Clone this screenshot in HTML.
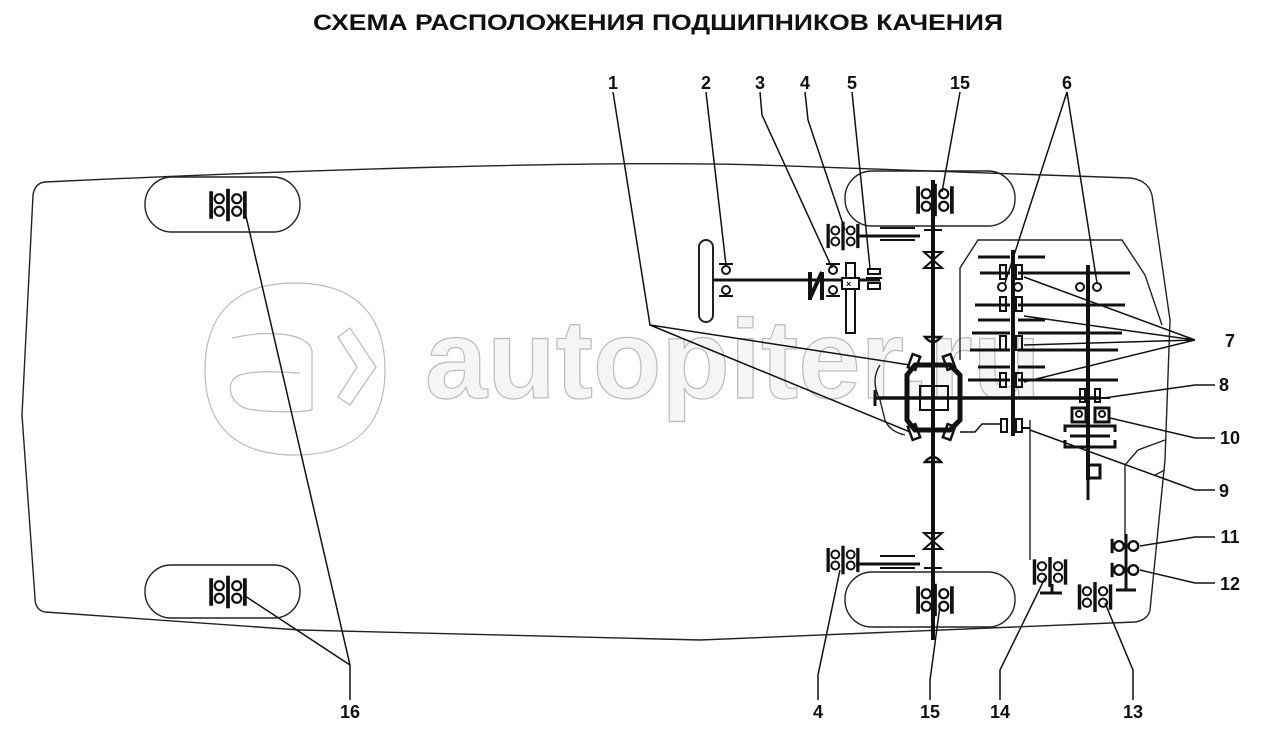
<!DOCTYPE html>
<html><head><meta charset="utf-8"><style>
html,body{margin:0;padding:0;background:#fff;}
svg{display:block;}
.lb{font-family:"Liberation Sans",sans-serif;font-weight:bold;fill:#111;}
</style></head><body>
<svg width="1285" height="745" viewBox="0 0 1285 745" xmlns="http://www.w3.org/2000/svg">
<defs>
<g id="b2" stroke="#111" fill="none">
<rect x="-15" y="-11" width="3" height="22" fill="#111" stroke="none"/>
<circle cx="-7" cy="-5" r="3.6" stroke-width="1.8"/><circle cx="-7" cy="5" r="3.6" stroke-width="1.8"/>
<rect x="-1.5" y="-13" width="3" height="26" fill="#111" stroke="none"/>
<circle cx="7" cy="-5" r="3.6" stroke-width="1.8"/><circle cx="7" cy="5" r="3.6" stroke-width="1.8"/>
<rect x="12" y="-11" width="3" height="22" fill="#111" stroke="none"/>
</g>
<g id="b1" stroke="#111" fill="none">
<rect x="-12" y="-6" width="2.5" height="12" fill="#111" stroke="none"/>
<circle cx="-5" cy="0" r="4" stroke-width="2"/>
<circle cx="7" cy="0" r="4" stroke-width="2"/>
</g>
</defs>

<text class="lb" x="658" y="30" font-size="22" text-anchor="middle" textLength="690" lengthAdjust="spacingAndGlyphs">СХЕМА РАСПОЛОЖЕНИЯ ПОДШИПНИКОВ КАЧЕНИЯ</text>

<g fill="none" stroke="#bbb" stroke-width="1.2">
<path d="M295,283 C360,283 385,320 385,370 C385,425 355,455 295,455 C235,455 205,425 205,370 C205,320 230,283 295,283 Z"/>
<path d="M232,338 C275,328 315,335 312,355 L312,410 C300,413 255,412 245,408 C228,402 225,380 240,375 C255,370 285,372 300,373"/>
<path d="M338,337 L350,328 L376,367 L350,405 L338,397 L357,367 Z"/>
</g>
<text x="425" y="398" font-size="112" style="font-family:'Liberation Sans',sans-serif;font-weight:bold;fill:#f5f5f5;stroke:#bbb;stroke-width:1.2">autopiter.ru</text>

<g fill="none" stroke="#222" stroke-width="1.4">
<path d="M45,182 C300,170 600,160 760,165 L1130,178 Q1148,180 1152,195 L1170,320 L1165,460 L1150,610 Q1148,620 1135,622 L700,640 L300,630 L45,612 Q35,610 35,598 L22,415 L33,195 Q35,183 45,182 Z"/>
<rect x="145" y="177" width="155" height="55" rx="27"/>
<rect x="145" y="565" width="155" height="53" rx="26"/>
<rect x="845" y="171" width="170" height="55" rx="27"/>
<rect x="845" y="572" width="170" height="55" rx="27"/>
<path d="M960,360 L960,268 L978,240 L1122,240 L1145,275 L1162,325"/>
<path d="M880,365 Q870,380 880,400 L885,420 Q890,432 905,435"/>
<path d="M1125,465 L1138,450 L1165,440"/>
<path d="M1125,465 L1125,540"/>
<path d="M1030,420 L1030,560"/>
<path d="M1155,475 L1165,470"/>
<rect x="699" y="240" width="14" height="82" rx="7" stroke-width="2"/>
</g>

<use href="#b2" transform="translate(228,205) scale(1.25)"/>
<use href="#b2" transform="translate(228,592) scale(1.25)"/>
<use href="#b2" transform="translate(935,200) scale(1.25)"/>
<use href="#b2" transform="translate(935,600) scale(1.25)"/>
<use href="#b2" transform="translate(843,236) scale(1.1)"/>
<use href="#b2" transform="translate(843,560) scale(1.1)"/>
<use href="#b2" transform="translate(1050,572) scale(1.15)"/>
<use href="#b2" transform="translate(1095,597) scale(1.15)"/>
<use href="#b1" transform="translate(1125,546) scale(1.2)"/>
<use href="#b1" transform="translate(1125,570) scale(1.2)"/>

<g stroke="#111" fill="none">
<line x1="713" y1="280" x2="880" y2="280" stroke-width="3"/>
<circle cx="726" cy="270" r="4" stroke-width="2"/><circle cx="726" cy="290" r="4" stroke-width="2"/>
<line x1="719" y1="264" x2="733" y2="264" stroke-width="2"/><line x1="719" y1="296" x2="733" y2="296" stroke-width="2"/>
<path d="M810,300 L810,272 M810,298 L822,272 M822,272 L822,300" stroke-width="4"/>
<circle cx="833" cy="270" r="4" stroke-width="2"/><circle cx="833" cy="290" r="4" stroke-width="2"/>
<line x1="826" y1="264" x2="840" y2="264" stroke-width="2"/><line x1="826" y1="296" x2="840" y2="296" stroke-width="2"/>
<rect x="846" y="263" width="9" height="70" stroke-width="2" fill="#fff"/>
<rect x="842" y="278" width="17" height="11" stroke-width="2" fill="#fff"/>
<text class="lb" x="846" y="287" font-size="9" stroke="none">×</text>
<rect x="868" y="269" width="12" height="5" stroke-width="2"/><rect x="868" y="283" width="12" height="6" stroke-width="2"/>
<line x1="866" y1="278" x2="882" y2="278" stroke-width="2"/>
<line x1="856" y1="236" x2="920" y2="236" stroke-width="3"/>
<line x1="880" y1="228" x2="915" y2="228" stroke-width="2"/><line x1="880" y1="240" x2="915" y2="240" stroke-width="2"/>
<line x1="856" y1="564" x2="920" y2="564" stroke-width="3"/>
<line x1="880" y1="556" x2="915" y2="556" stroke-width="2"/><line x1="880" y1="568" x2="915" y2="568" stroke-width="2"/>
<line x1="933" y1="180" x2="933" y2="640" stroke-width="4"/>
<path d="M924,252 L942,252 L924,268 L942,268 Z" stroke-width="2"/>
<path d="M924,533 L942,533 L924,549 L942,549 Z" stroke-width="2"/>
<path d="M925,337 Q933,347 941,337 Z M925,462 Q933,452 941,462 Z" stroke-width="2.5"/>
<line x1="924" y1="230" x2="942" y2="230" stroke-width="2"/>
<line x1="924" y1="568" x2="942" y2="568" stroke-width="2"/>
<path d="M907,375 L915,365 L950,365 L960,375 L960,420 L950,430 L915,430 L907,420 Z" stroke-width="5"/>
<rect x="920" y="386" width="28" height="24" stroke-width="2"/>
<line x1="875" y1="398" x2="1100" y2="398" stroke-width="3.5"/>
<line x1="875" y1="390" x2="875" y2="406" stroke-width="3"/>
<rect x="910" y="355" width="8" height="14" stroke-width="2.5" transform="rotate(20 914 362)"/>
<rect x="945" y="355" width="8" height="14" stroke-width="2.5" transform="rotate(-20 949 362)"/>
<rect x="910" y="425" width="8" height="14" stroke-width="2.5" transform="rotate(-20 914 432)"/>
<rect x="945" y="425" width="8" height="14" stroke-width="2.5" transform="rotate(20 949 432)"/>
<path d="M960,432 L975,432 L982,424 L1000,424" stroke-width="1.5"/>
<rect x="1001" y="419" width="6" height="13" stroke-width="2"/><rect x="1016" y="419" width="6" height="13" stroke-width="2"/>
<line x1="1023" y1="428" x2="1030" y2="428" stroke-width="2"/>
<line x1="1013" y1="250" x2="1013" y2="436" stroke-width="4"/>
<line x1="1088" y1="265" x2="1088" y2="480" stroke-width="4"/>
<g stroke-width="3">
<line x1="978" y1="257" x2="1010" y2="257"/><line x1="1018" y1="257" x2="1045" y2="257"/>
<line x1="980" y1="273" x2="1010" y2="273"/><line x1="1018" y1="273" x2="1130" y2="273"/>
<line x1="975" y1="305" x2="1010" y2="305"/><line x1="1018" y1="305" x2="1125" y2="305"/>
<line x1="978" y1="320" x2="1010" y2="320"/><line x1="1018" y1="320" x2="1045" y2="320"/>
<line x1="972" y1="333" x2="1010" y2="333"/><line x1="1018" y1="333" x2="1122" y2="333"/>
<line x1="970" y1="350" x2="1010" y2="350"/><line x1="1018" y1="350" x2="1118" y2="350"/>
<line x1="978" y1="367" x2="1010" y2="367"/><line x1="1018" y1="367" x2="1045" y2="367"/>
<line x1="968" y1="380" x2="1010" y2="380"/><line x1="1018" y1="380" x2="1118" y2="380"/>
</g>
<g stroke-width="2">
<rect x="1000" y="265" width="6" height="14"/><rect x="1016" y="265" width="6" height="14"/>
<rect x="1000" y="297" width="6" height="14"/><rect x="1016" y="297" width="6" height="14"/>
<rect x="1000" y="336" width="6" height="14"/><rect x="1016" y="336" width="6" height="14"/>
<rect x="1000" y="373" width="6" height="14"/><rect x="1016" y="373" width="6" height="14"/>
<circle cx="1002" cy="287" r="4"/><circle cx="1018" cy="287" r="4"/>
<circle cx="1080" cy="287" r="4"/><circle cx="1097" cy="287" r="4"/>
<rect x="1080" y="389" width="5" height="13"/><rect x="1095" y="389" width="5" height="13"/>
<line x1="1100" y1="398" x2="1110" y2="398"/>
<rect x="1072" y="408" width="14" height="14" stroke-width="3"/><rect x="1095" y="408" width="14" height="14" stroke-width="3"/>
<circle cx="1079" cy="414" r="3"/><circle cx="1102" cy="414" r="3"/>
</g>
<path d="M1065,432 L1065,426 L1115,426 L1115,432 M1065,440 L1065,447 L1115,447 L1115,440 M1070,436 L1110,436" stroke-width="3"/>
<path d="M1088,447 L1088,465 L1100,465 L1100,478 L1088,478 L1088,500" stroke-width="3"/>
<line x1="1040" y1="593" x2="1062" y2="593" stroke-width="3"/><line x1="1052" y1="584" x2="1052" y2="593" stroke-width="3"/>
<line x1="1126" y1="534" x2="1126" y2="590" stroke-width="3"/><line x1="1116" y1="590" x2="1136" y2="590" stroke-width="3"/>
</g>

<g stroke="#111" stroke-width="1.5" fill="none">
<path d="M613,92 L650,325 L910,365 M650,325 L910,432"/>
<path d="M706,92 L726,265"/>
<path d="M760,92 L762,115 L832,268"/>
<path d="M805,92 L808,120 L845,230"/>
<path d="M852,92 L870,268"/>
<path d="M960,92 L942,192"/>
<path d="M1067,92 L1005,283 M1067,92 L1097,283"/>
<path d="M1195,340 L1024,277 M1195,340 L1024,316 M1195,340 L1024,345 M1195,340 L1024,382"/>
<path d="M1215,385 L1195,385 L1104,398"/>
<path d="M1215,438 L1195,438 L1110,418"/>
<path d="M1215,490 L1195,490 L1030,430"/>
<path d="M1215,537 L1195,537 L1140,546"/>
<path d="M1215,583 L1195,583 L1140,570"/>
<path d="M350,700 L350,665 L245,212 M350,665 L245,596"/>
<path d="M818,700 L818,675 L840,570"/>
<path d="M930,700 L930,680 L940,606"/>
<path d="M1000,700 L1000,670 L1045,578"/>
<path d="M1133,700 L1133,670 L1105,603"/>
</g>

<g class="lb" font-size="18" text-anchor="middle">
<text class="lb" x="613" y="89">1</text><text class="lb" x="706" y="89">2</text><text class="lb" x="760" y="89">3</text>
<text class="lb" x="805" y="89">4</text><text class="lb" x="852" y="89">5</text><text class="lb" x="960" y="89">15</text>
<text class="lb" x="1067" y="89">6</text>
<text class="lb" x="1230" y="347">7</text><text class="lb" x="1224" y="391">8</text><text class="lb" x="1230" y="444">10</text>
<text class="lb" x="1224" y="497">9</text><text class="lb" x="1230" y="543">11</text><text class="lb" x="1230" y="590">12</text>
<text class="lb" x="350" y="718">16</text><text class="lb" x="818" y="718">4</text><text class="lb" x="930" y="718">15</text>
<text class="lb" x="1000" y="718">14</text><text class="lb" x="1133" y="718">13</text>
</g>
</svg>
</body></html>
